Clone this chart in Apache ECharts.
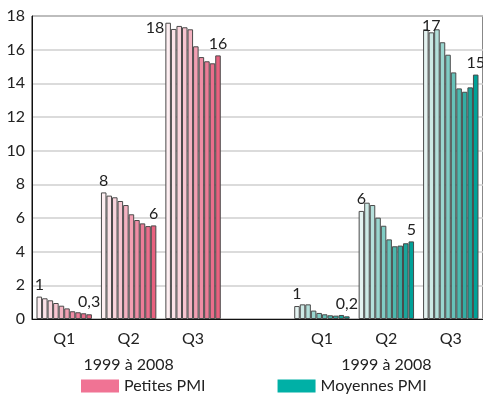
<!DOCTYPE html>
<html>
<head>
<meta charset="utf-8">
<script src="https://cdn.jsdelivr.net/npm/echarts@6/dist/echarts.min.js"></script>
<style>html,body{margin:0;padding:0;background:#fff}#c{width:483px;height:403px}</style>
</head>
<body>
<div id="c"></div>
<script>
var years = ['1999','2000','2001','2002','2003','2004','2005','2006','2007','2008'];
var categories = ['Q1','Q2','Q3','','Q1','Q2','Q3'];
var periodLabels = ['','1999 à 2008','','','','1999 à 2008',''];
var petitesQ1 = [1.33,1.23,1.11,0.95,0.79,0.63,0.46,0.40,0.34,0.28];
var petitesQ2 = [7.52,7.33,7.23,7.01,6.77,6.22,5.88,5.68,5.52,5.56];
var petitesQ3 = [17.60,17.23,17.41,17.33,17.21,16.20,15.56,15.31,15.19,15.66];
var moyQ1 = [0.77,0.87,0.87,0.50,0.36,0.28,0.22,0.20,0.24,0.16];
var moyQ2 = [6.42,6.91,6.77,6.02,5.54,4.73,4.32,4.36,4.50,4.61];
var moyQ3 = [17.21,17.03,17.21,16.44,15.70,14.65,13.70,13.50,13.76,14.52];
var pinkShades = ['#fdeef1','#fbe2e7','#f9d4dc','#f7c5d0','#f4b2c1','#f29fb2','#ef8da5','#ec7c97','#ea6d8b','#e8617f'];
var tealShades = ['#e4f3f1','#cdeae6','#b4e0db','#9ad6cf','#80ccc4','#66c2b9','#4cb8ae','#33aea4','#1aa59b','#00a198'];
var legendPink = '#f07394';
var legendTeal = '#00b0a6';

function fmt(v){ return v < 0.5 ? v.toFixed(1).replace('.', ',') : String(Math.round(v)); }

var FONT = 'Lato';
var groups = [petitesQ1, petitesQ2, petitesQ3, null, moyQ1, moyQ2, moyQ3];
var series = years.map(function(y, i){
  return {
    name: y, type: 'bar', barGap: '0%', barCategoryGap: '14%',
    silent: true,
    data: groups.map(function(g, gi){
      if (!g) return '-';
      var item = {
        value: g[i],
        itemStyle: { color: gi < 3 ? pinkShades[i] : tealShades[i], borderColor: '#4a4a4a', borderWidth: 1 }
      };
      if (i === 0 || i === 9) {
        var lab = { show: true, position: 'top', distance: 4, formatter: fmt(g[i]), fontSize: 16, fontFamily: FONT, color: '#222' };
        if (i === 0 && gi === 2) { lab.position = [-1, 5]; lab.align = 'right'; lab.verticalAlign = 'middle'; }
        if (i === 0 && gi === 6) { lab.position = [-1, -3]; lab.align = 'left'; lab.verticalAlign = 'middle'; }
        item.label = lab;
      }
      return item;
    })
  };
});
series.push({ name: 'Petites PMI', type: 'line', data: [], itemStyle: { color: legendPink }, lineStyle: { color: legendPink } });
series.push({ name: 'Moyennes PMI', type: 'line', data: [], itemStyle: { color: legendTeal }, lineStyle: { color: legendTeal } });

var chart = echarts.init(document.getElementById('c'));
chart.setOption({
  animation: false,
  textStyle: { fontFamily: FONT },
  grid: { left: 32, top: 16, bottom: 84, right: -5, show: true, borderColor: '#111', borderWidth: 1, containLabel: false },
  legend: {
    data: [{ name: 'Petites PMI', icon: 'rect' }, { name: 'Moyennes PMI', icon: 'rect' }],
    bottom: 4, left: 76, itemWidth: 38, itemHeight: 13, itemGap: 72,
    textStyle: { fontSize: 16, fontFamily: FONT, color: '#222' }
  },
  xAxis: [
    { type: 'category', data: categories, position: 'bottom',
      axisLine: { show: true, lineStyle: { color: '#111' } }, axisTick: { show: false },
      axisLabel: { interval: 0, fontSize: 16, margin: 12, color: '#222' } },
    { type: 'category', data: periodLabels, position: 'bottom', offset: 26,
      axisLine: { show: false }, axisTick: { show: false },
      axisLabel: { interval: 0, fontSize: 16, margin: 12, color: '#222' } }
  ],
  yAxis: {
    type: 'value', min: 0, max: 18, interval: 2,
    axisLine: { show: true, lineStyle: { color: '#111' } }, axisTick: { show: false },
    axisLabel: { fontSize: 16, margin: 7, color: '#222' },
    splitLine: { lineStyle: { color: '#cfcfcf', width: 1.5 } }
  },
  series: series
});
</script>
</body>
</html>
